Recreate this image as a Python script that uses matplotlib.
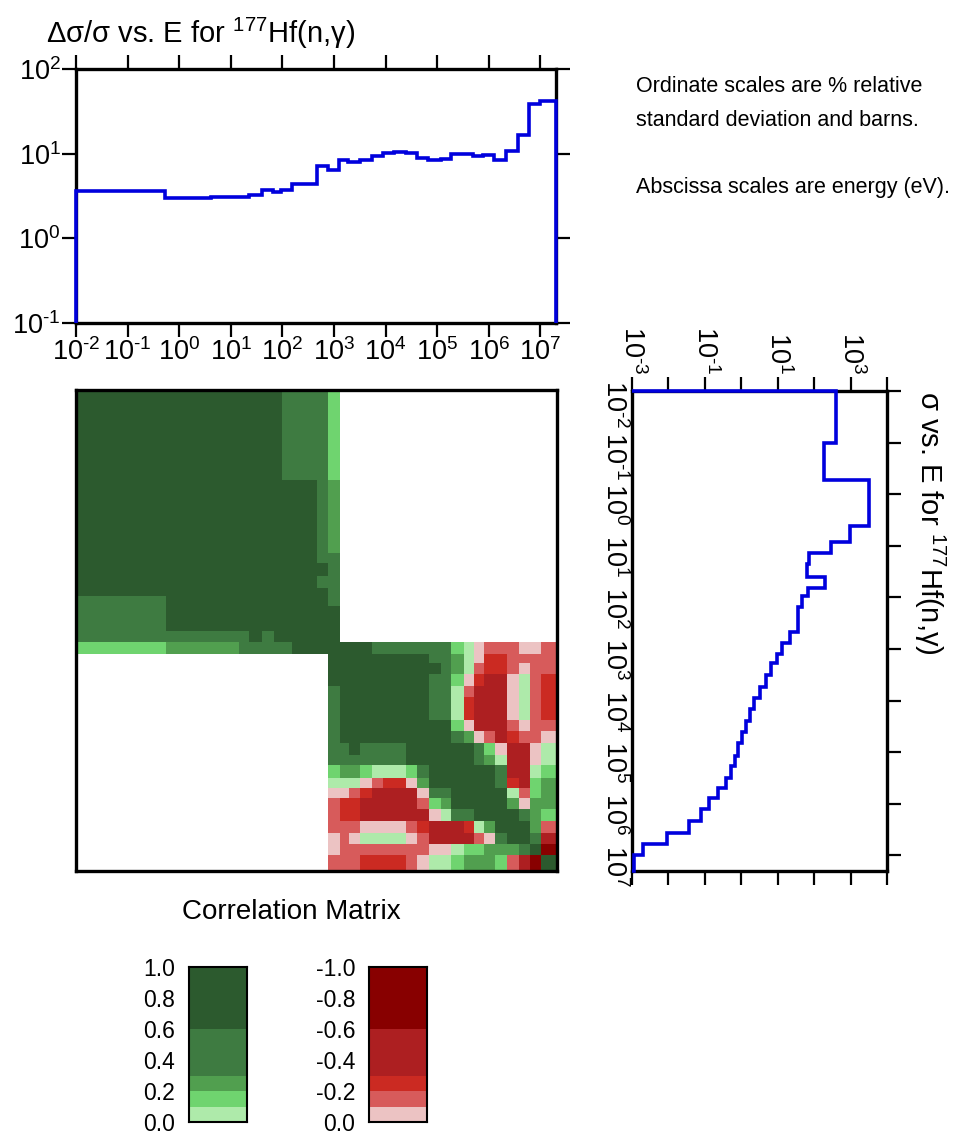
r"""Covariance summary plot for 177Hf(n,g): rel. uncertainty, correlation matrix, cross section."""
import matplotlib
matplotlib.use("Agg")
import matplotlib.pyplot as plt
import numpy as np
from matplotlib.colors import ListedColormap, BoundaryNorm

plt.rcParams['font.family'] = ['Liberation Sans', 'DejaVu Sans']
plt.rcParams['mathtext.fontset'] = 'custom'
plt.rcParams['mathtext.rm'] = 'Liberation Sans'
plt.rcParams['mathtext.it'] = 'Liberation Sans:italic'
plt.rcParams['mathtext.bf'] = 'Liberation Sans:bold'

# energy grid (eV) of the uncertainty / cross-section curves
e_edges = [1e-2, 0.1, 0.54, 4.1, 8.3, 14, 22.5, 40, 66, 95, 150, 460, 760, 1250,
           1900, 3130, 5400, 8700, 14500, 24400, 40000, 65600, 116000, 182000,
           312000, 487000, 771000, 1.26e6, 2.14e6, 3.68e6, 6.0e6, 1.0e7, 2.0e7]
# relative standard deviation (%)
rel_unc = [3.64, 3.64, 3.02, 3.04, 3.06, 3.10, 3.22, 3.72, 3.52, 3.72, 4.38, 7.14,
           6.40, 8.40, 7.96, 8.34, 9.37, 10.2, 10.5, 10.3, 8.8, 8.4, 8.7, 9.8, 10.0,
           9.5, 9.6, 8.4, 10.75, 16.6, 38.7, 41.6]
# cross section (barns)
xs = [400, 183, 3200, 950, 292, 71, 63, 204, 66, 47, 36, 22, 13.5, 9.6, 6.6, 4.7,
      3.2, 2.3, 1.71, 1.33, 1.02, 0.83, 0.68, 0.51, 0.38, 0.224, 0.132, 0.078,
      0.037, 0.0089, 0.002, 0.0011]

# covariance group grid (eV)
cov_edges = [1e-2, 0.54, 14, 22.5, 40, 66, 95, 150, 460, 760, 1250, 1900, 3130,
             5400, 8700, 14500, 24400, 40000, 65600, 116000, 182000, 312000,
             487000, 771000, 1.26e6, 2.14e6, 3.68e6, 6.0e6, 1.0e7, 2.0e7]

# correlations, groups 0-9 (thermal / resolved region)
corr_lo = [
    [.8, .8, .8, .8, .8, .8, .45, .45, .45, .15],
    [.8, .8, .8, .8, .8, .8, .8, .8, .45, .25],
    [.8, .8, .8, .8, .8, .8, .8, .8, .45, .45],
    [.8, .8, .8, .8, .8, .8, .8, .8, .8, .45],
    [.8, .8, .8, .8, .8, .8, .8, .8, .45, .45],
    [.8, .8, .8, .8, .8, .8, .8, .8, .8, .45],
    [.45, .8, .8, .8, .8, .8, .8, .8, .8, .45],
    [.45, .8, .8, .8, .8, .8, .8, .8, .8, .8],
    [.45, .45, .45, .8, .45, .8, .8, .8, .8, .8],
    [.15, .25, .45, .45, .45, .45, .45, .8, .8, .8],
]
# correlations, groups 9-28 (unresolved / fast region)
corr_hi = [
    [.8, .8, .8, .8, .45, .45, .45, .45, .45, .45, .45, .15, .05, -.05, -.15, -.15, -.15, -.05, -.05, -.15],
    [.8, .8, .8, .8, .8, .8, .8, .8, .8, .45, .45, .25, .05, -.05, -.25, -.25, -.15, -.15, -.15, -.15],
    [.8, .8, .8, .8, .8, .8, .8, .8, .8, .8, .45, .25, .05, -.15, -.25, -.25, -.15, -.05, -.15, -.15],
    [.8, .8, .8, .8, .8, .8, .8, .8, .8, .45, .45, .15, -.05, -.25, -.45, -.45, -.05, .05, -.15, -.25],
    [.45, .8, .8, .8, .8, .8, .8, .8, .8, .45, .45, .05, -.15, -.45, -.45, -.45, -.05, .05, -.15, -.25],
    [.45, .8, .8, .8, .8, .8, .8, .8, .8, .45, .45, .05, -.25, -.45, -.45, -.45, -.05, .05, -.15, -.25],
    [.45, .8, .8, .8, .8, .8, .8, .8, .8, .45, .45, .05, -.25, -.45, -.45, -.45, -.05, .05, -.15, -.25],
    [.45, .8, .8, .8, .8, .8, .8, .8, .8, .8, .8, .15, -.05, -.45, -.45, -.45, -.15, -.05, -.15, -.15],
    [.45, .8, .8, .8, .8, .8, .8, .8, .8, .8, .8, .45, .25, -.05, -.15, -.45, -.25, -.15, -.15, -.05],
    [.45, .45, .8, .45, .45, .45, .45, .8, .8, .8, .8, .8, .8, .45, .15, -.05, -.45, -.45, -.05, .05],
    [.45, .45, .45, .45, .45, .45, .45, .8, .8, .8, .8, .8, .8, .45, .25, .05, -.45, -.45, -.05, .05],
    [.15, .25, .25, .15, .05, .05, .05, .15, .45, .8, .8, .8, .8, .8, .8, .45, -.45, -.45, .05, .15],
    [.05, .05, .05, -.05, -.15, -.25, -.25, -.05, .25, .8, .8, .8, .8, .8, .8, .45, -.25, -.45, .15, .25],
    [-.05, -.05, -.15, -.25, -.45, -.45, -.45, -.45, -.05, .45, .45, .8, .8, .8, .8, .8, .05, -.15, .15, .25],
    [-.15, -.25, -.25, -.45, -.45, -.45, -.45, -.45, -.15, .15, .25, .8, .8, .8, .8, .8, .25, -.05, .25, .25],
    [-.15, -.25, -.25, -.45, -.45, -.45, -.45, -.45, -.45, -.05, .05, .45, .45, .8, .8, .8, .8, .45, .25, .15],
    [-.15, -.15, -.15, -.05, -.05, -.05, -.05, -.15, -.25, -.45, -.45, -.45, -.25, .05, .25, .8, .8, .8, .25, -.15],
    [-.05, -.15, -.05, .05, .05, .05, .05, -.05, -.15, -.45, -.45, -.45, -.45, -.15, -.05, .45, .8, .8, .45, -.45],
    [-.05, -.15, -.15, -.15, -.15, -.15, -.15, -.15, -.15, -.05, -.05, .05, .15, .15, .25, .25, .25, .45, .8, -.8],
    [-.15, -.15, -.15, -.25, -.25, -.25, -.25, -.15, -.05, .05, .05, .15, .25, .25, .25, .15, -.15, -.45, -.8, .8],
]

corr_levels = [-1.0, -0.6, -0.3, -0.2, -0.1, 0.0, 0.1, 0.2, 0.3, 0.6, 1.0]
corr_colors = ['#880000', '#ad1f21', '#cb2a22', '#d75b5b', '#ecc3c3',
               '#aeeaaa', '#6fd46f', '#519f4f', '#3e7b41', '#2c5a2e']
cbar_ticks_pos = [0.0, 0.2, 0.4, 0.6, 0.8, 1.0]
cbar_ticks_neg = [0.0, -0.2, -0.4, -0.6, -0.8, -1.0]

BLUE = '#0000dd'
W, H = 963, 1132
TICK_FS = 19.5


def box(l, t, r, b):
    return [l / W, 1 - b / H, (r - l) / W, (b - t) / H]


def dec_label(k):
    # short hyphen in the exponent, as in the original labels
    exp = str(k).replace('-', '\u2010')
    return r'$\mathdefault{10^{%s}}$' % exp


def main():
    cmap = ListedColormap(corr_colors)
    cmap.set_bad('white')
    norm = BoundaryNorm(corr_levels, cmap.N)

    n = len(cov_edges) - 1
    corr = np.full((n, n), np.nan)
    nlo = len(corr_lo)
    corr[:nlo, :nlo] = corr_lo
    corr[nlo - 1:, nlo - 1:] = corr_hi

    fig = plt.figure(figsize=(W / 100, H / 100), dpi=100)

    # --- relative uncertainty
    ax = fig.add_axes(box(76, 69, 556, 323))
    ax.stairs(rel_unc, e_edges, baseline=0.1, color=BLUE, lw=2.6, clip_on=False, zorder=3)
    ax.set_xscale('log')
    ax.set_yscale('log')
    ax.set_xlim(1e-2, 2e7)
    ax.set_ylim(0.1, 100)
    ax.set_xticks([10.0 ** k for k in range(-2, 8)])
    ax.set_xticklabels([dec_label(k) for k in range(-2, 8)])
    ax.set_yticks([10.0 ** k for k in range(-1, 3)])
    ax.set_yticklabels([dec_label(k) for k in range(-1, 3)])
    ax.minorticks_off()
    ax.tick_params(direction='out', top=True, right=True, length=10, width=1.6,
                   labelsize=TICK_FS, pad=1)
    for s in ax.spines.values():
        s.set_linewidth(2.4)

    # --- correlation matrix
    axm = fig.add_axes(box(76, 390, 557, 871))
    axm.pcolormesh(cov_edges, cov_edges, corr, cmap=cmap, norm=norm, shading='flat')
    axm.set_xscale('log')
    axm.set_yscale('log')
    axm.set_xlim(1e-2, 2e7)
    axm.set_ylim(2e7, 1e-2)
    axm.tick_params(which='both', left=False, bottom=False, labelleft=False, labelbottom=False)
    for s in axm.spines.values():
        s.set_linewidth(2.4)
    fig.text(291 / W, 1 - 912 / H, 'Correlation Matrix', ha='center', va='center', fontsize=20)

    # --- cross section (rotated)
    axs = fig.add_axes(box(632, 391, 887, 871))
    axs.stairs(xs, e_edges, baseline=1e-3, orientation='horizontal', color=BLUE, lw=2.6,
               clip_on=False, zorder=3)
    axs.set_xscale('log')
    axs.set_yscale('log')
    axs.set_xlim(1e-3, 1e4)
    axs.set_ylim(2e7, 1e-2)
    axs.set_xticks([10.0 ** k for k in range(-3, 5)])
    axs.set_xticklabels([dec_label(k) if k % 2 else '' for k in range(-3, 5)])
    axs.set_yticks([10.0 ** k for k in range(-2, 8)])
    axs.set_yticklabels([dec_label(k) for k in range(-2, 8)])
    axs.minorticks_off()
    axs.tick_params(axis='x', direction='out', top=True, bottom=True, labeltop=True,
                    labelbottom=False, labelrotation=270, length=10, width=1.6,
                    labelsize=TICK_FS, pad=2)
    axs.tick_params(axis='y', direction='out', left=False, right=True, labelleft=True,
                    labelright=False, labelrotation=270, length=10, width=1.6,
                    labelsize=TICK_FS, pad=-7)
    for s in axs.spines.values():
        s.set_linewidth(2.4)
    fig.text(930 / W, 1 - 391 / H, r'σ vs. E for $^{177}$Hf(n,γ)', rotation=270,
             ha='center', va='top', fontsize=21)

    # --- title and notes
    fig.text(46 / W, 1 - 33 / H, r'Δσ/σ vs. E for $^{177}$Hf(n,γ)', ha='left', va='center',
             fontsize=21)
    fig.text(636 / W, 1 - 87 / H, 'Ordinate scales are % relative', va='center', fontsize=15.5)
    fig.text(636 / W, 1 - 121 / H, 'standard deviation and barns.', va='center', fontsize=15.5)
    fig.text(636 / W, 1 - 188 / H, 'Abscissa scales are energy (eV).', va='center', fontsize=15.5)

    # --- colour keys
    for rect, lo, hi, ticks in [((189, 967, 247, 1122), 5, 10, cbar_ticks_pos),
                                ((369, 967, 427, 1122), 0, 5, cbar_ticks_neg)]:
        axc = fig.add_axes(box(*rect))
        lev = np.array(corr_levels[lo:hi + 1])
        mids = (lev[:-1] + lev[1:]) / 2
        axc.pcolormesh([0, 1], lev, mids[:, None], cmap=cmap, norm=norm, shading='flat')
        axc.set_xlim(0, 1)
        if lo == 5:
            axc.set_ylim(0, 1)
        else:
            axc.set_ylim(0, -1)
        axc.set_yticks(ticks)
        axc.set_yticklabels(['%.1f' % t if t != 0 else '0.0' for t in ticks])
        axc.set_xticks([])
        axc.tick_params(axis='y', length=0, labelsize=16.5, pad=10)
        for s in axc.spines.values():
            s.set_linewidth(1.5)

    fig.savefig('out.png', dpi=100)


if __name__ == '__main__':
    main()
